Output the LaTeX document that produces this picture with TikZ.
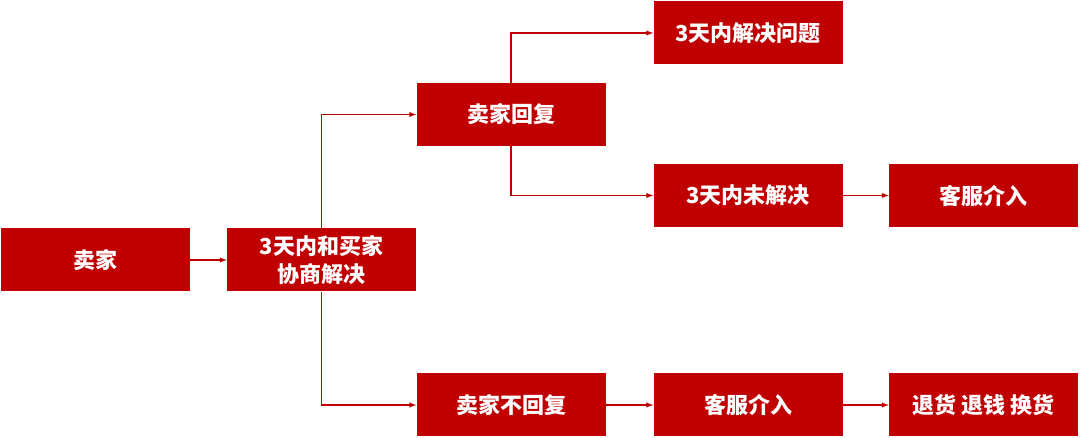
\documentclass[tikz,border=0pt]{standalone}
\usepackage{fontspec}
\setmainfont{Noto Sans CJK SC}
\definecolor{boxred}{HTML}{C00000}
\begin{document}
\begin{tikzpicture}[
        x=1pt, y=-1pt,
        cell/.style={rectangle, fill=boxred, text=white, minimum width=189pt, minimum height=63pt,
            inner sep=0pt, align=center, font=\fontsize{22}{28}\selectfont\bfseries}, % Стиль блоков
        flow/.style={draw=boxred, line width=1.4pt, -latex}, % Стрелки
    ]
    \useasboundingbox (0,0) rectangle (1080,438);

    \node[cell] (seller)   at (95,260)    {卖家};
    \node[cell] (talk)     at (321.5,260) {3天内和买家\\协商解决};
    \node[cell] (reply)    at (511,114.5) {卖家回复};
    \node[cell] (noreply)  at (511,405)   {卖家不回复};
    \node[cell] (solved)   at (748,33)    {3天内解决问题};
    \node[cell] (unsolved) at (748,195.5) {3天内未解决};
    \node[cell] (serviceA) at (983.5,195.5) {客服介入};
    \node[cell] (serviceB) at (748,405)   {客服介入};
    \node[cell] (refund)   at (983.5,405) {退货 退钱 换货};

    \draw[flow] (seller) -- (talk);
    \draw[flow] (talk.north) |- (reply.west);
    \draw[flow] (talk.south) |- (noreply.west);
    \draw[flow] (reply.north) |- (solved.west);
    \draw[flow] (reply.south) |- (unsolved.west);
    \draw[flow] (unsolved) -- (serviceA);
    \draw[flow] (noreply) -- (serviceB);
    \draw[flow] (serviceB) -- (refund);
\end{tikzpicture}
\end{document}
